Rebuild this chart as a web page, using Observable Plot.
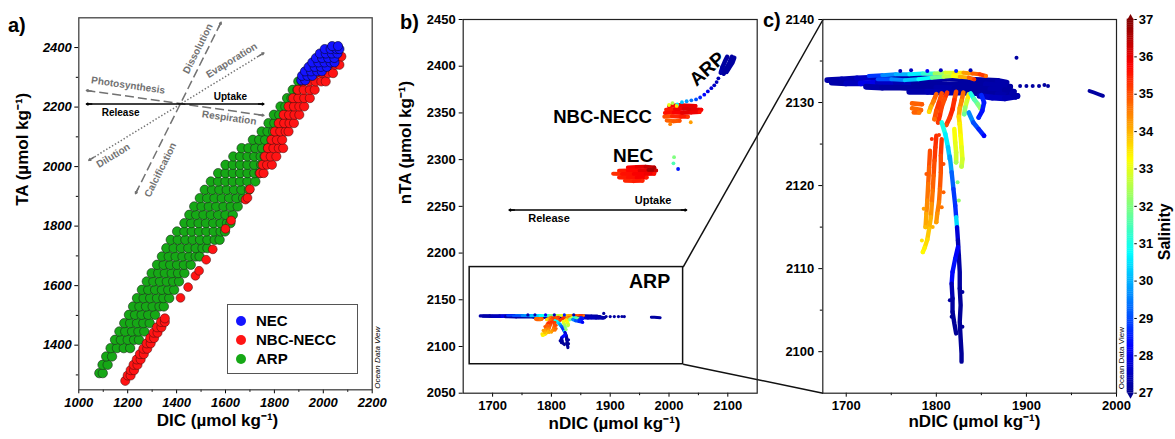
<!DOCTYPE html>
<html><head><meta charset="utf-8">
<script src="https://cdn.jsdelivr.net/npm/d3@7"></script>
<script src="https://cdn.jsdelivr.net/npm/@observablehq/plot@0.6"></script>
<style>
body{margin:0;background:#fff;}
#wrap{position:relative;width:1175px;height:439px;overflow:hidden;font-family:'Liberation Sans',Arial,Helvetica,sans-serif;background:#fff;}
#wrap svg{position:absolute;left:0;top:0;}
.plab{position:absolute;font-weight:bold;font-size:20px;line-height:20px;}
#legend{position:absolute;left:227px;top:304px;width:131px;height:70px;box-sizing:border-box;border:1.5px solid #555;background:#fff;padding-top:7px;}
#legend .li{position:relative;height:18.8px;line-height:18.8px;font-weight:bold;font-size:15px;padding-left:28px;}
#legend .sw{position:absolute;left:8px;top:4.4px;width:10px;height:10px;border-radius:50%;}
</style></head>
<body><div id="wrap"></div>
<script>
// ---------- shared salinity colour scale ----------
const salStops = [27, 28.25, 30.75, 33.25, 35.75, 37];
const salColors = ["#00008f", "#0000ff", "#00ffff", "#ffff00", "#ff0000", "#800000"];
const salTicks = [27, 28, 29, 30, 31, 32, 33, 34, 35, 36, 37];

// ---------- panel a: DIC vs TA (rows: TA, then DIC values) ----------
const arpRowsA = [
 [1306, 1084, 1098],
 [1334, 1097, 1118],
 [1362, 1112, 1136],
 [1390, 1130, 1156, 1184, 1210],
 [1418, 1148, 1172, 1200, 1226, 1246],
 [1446, 1166, 1190, 1218, 1244, 1268],
 [1474, 1186, 1210, 1238, 1264, 1290],
 [1502, 1205, 1230, 1257, 1284, 1312],
 [1530, 1222, 1248, 1275, 1302, 1330, 1348],
 [1558, 1238, 1265, 1292, 1320, 1346, 1370],
 [1586, 1258, 1284, 1312, 1340, 1366, 1390],
 [1614, 1278, 1305, 1332, 1360, 1386, 1410],
 [1642, 1298, 1325, 1352, 1380, 1406, 1432],
 [1670, 1320, 1347, 1374, 1402, 1430, 1458],
 [1698, 1340, 1368, 1396, 1424, 1452, 1478, 1494],
 [1726, 1358, 1388, 1418, 1448, 1478, 1506, 1526],
 [1754, 1376, 1405, 1436, 1466, 1496, 1526, 1556, 1576],
 [1782, 1402, 1432, 1462, 1492, 1522, 1552, 1580, 1598],
 [1810, 1432, 1460, 1490, 1520, 1550, 1580, 1606, 1620],
 [1838, 1452, 1480, 1510, 1540, 1570, 1600, 1630],
 [1866, 1472, 1502, 1532, 1562, 1592, 1622, 1650],
 [1894, 1495, 1525, 1555, 1585, 1615, 1645, 1672],
 [1922, 1515, 1545, 1575, 1605, 1635, 1665, 1696],
 [1950, 1540, 1570, 1600, 1630, 1660, 1690, 1722],
 [1978, 1570, 1600, 1630, 1660, 1690, 1718, 1740],
 [2006, 1600, 1630, 1660, 1690, 1718, 1746],
 [2034, 1632, 1660, 1690, 1718, 1744, 1760],
 [2062, 1666, 1694, 1722, 1750, 1774],
 [2090, 1712, 1738, 1762, 1790],
 [2118, 1748, 1772, 1795, 1812],
 [2146, 1776, 1800, 1820, 1834],
 [2174, 1798, 1820, 1840, 1852],
 [2202, 1825, 1845, 1865],
 [2230, 1852, 1870, 1884],
 [2258, 1875, 1894],
 [2286, 1898, 1912]
];
const nbcRowsA = [
 [1280, 1190],
 [1298, 1200, 1212],
 [1316, 1212, 1226],
 [1334, 1224, 1240],
 [1352, 1237, 1253],
 [1370, 1250, 1266],
 [1388, 1264, 1280],
 [1406, 1278, 1294],
 [1424, 1292, 1308],
 [1442, 1306, 1322],
 [1460, 1320, 1338],
 [1478, 1336, 1352],
 [1490, 1352],
 [1978, 1742, 1756],
 [2006, 1752, 1770, 1790],
 [2034, 1762, 1785, 1808],
 [2062, 1774, 1796, 1818, 1836],
 [2090, 1788, 1810, 1832],
 [2118, 1802, 1824, 1846, 1858],
 [2146, 1818, 1840, 1862, 1880],
 [2174, 1838, 1860, 1882, 1902],
 [2202, 1858, 1880, 1902, 1922],
 [2230, 1876, 1898, 1922, 1945],
 [2258, 1896, 1920, 1945, 1965],
 [2286, 1918, 1942, 1968, 1992, 2010],
 [2314, 1945, 1970, 1995, 2020, 2040],
 [2342, 1975, 2000, 2025, 2050, 2066],
 [2370, 2005, 2030, 2055, 2074],
 [2395, 2040, 2062]
];
const nbcScatterA = [[1416,1559],[1447,1595],[1477,1633],[1492,1650],[1521,1687],[1548,1722],[1600,1791],[1623,1819],[1682,1889],[1690,1895],[1700,1924]];
const necRowsA = [
 [2290, 1910, 1926],
 [2305, 1913, 1935, 1955],
 [2320, 1925, 1950, 1975, 1994],
 [2335, 1940, 1965, 1990, 2014],
 [2350, 1955, 1980, 2005, 2030, 2046],
 [2365, 1970, 1995, 2020, 2045],
 [2380, 1986, 2010, 2035, 2058],
 [2395, 2006, 2030, 2054, 2066],
 [2405, 2036, 2060]
];
// process vectors of panel a
const aLines = [
 {x1: 1031, y1: 2256, x2: 1757, y2: 2172, kind: "dashed"},
 {x1: 1232, y1: 1909, x2: 1582, y2: 2485, kind: "dashed"},
 {x1: 1041, y1: 2021, x2: 1757, y2: 2382, kind: "dotted"},
 {x1: 1031, y1: 2210, x2: 1757, y2: 2210, kind: "solid"}
];
const aProcLabels = [
 {text: "Photosynthesis", x: 1202, y: 2273, rotate: 8},
 {text: "Respiration", x: 1615, y: 2164, rotate: 8},
 {text: "Dissolution", x: 1487, y: 2396, rotate: -63.5},
 {text: "Calcification", x: 1334, y: 1989, rotate: -63.5},
 {text: "Evaporation", x: 1625, y: 2357, rotate: -31.6},
 {text: "Dilution", x: 1141, y: 2037, rotate: -31.6}
];
const aFluxLabels = [
 {text: "Uptake", x: 1620, y: 2236},
 {text: "Release", x: 1171, y: 2182}
];
const aXMajor = [1000, 1200, 1400, 1600, 1800, 2000, 2200];
const aXMinor = [1100, 1300, 1500, 1700, 1900, 2100];
const aYMajor = [1400, 1600, 1800, 2000, 2200, 2400];
const aYMinor = [1300, 1500, 1700, 1900, 2100, 2300];

// ---------- panels b & c: nDIC, nTA, salinity tracks ----------
const arpBand = [
 [[1679,2132.7,27.3],[1695,2132.8,27.4],[1712,2132.9,27.6],[1730,2133.0,27.5],[1750,2133.1,27.4],[1770,2133.0,27.3],[1790,2132.9,27.3],[1810,2132.9,27.2],[1830,2132.8,27.2],[1850,2132.7,27.2],[1868,2132.6,27.3],[1878,2132.4,27.3]],
 [[1684,2132.4,27.3],[1700,2132.3,27.5],[1716,2132.3,28.0],[1735,2132.4,27.6],[1755,2132.4,27.4],[1775,2132.3,27.2],[1795,2132.3,27.2],[1815,2132.2,27.2],[1835,2132.2,27.2],[1855,2132.2,27.3],[1872,2132.0,27.3],[1882,2131.9,27.2]],
 [[1722,2131.9,27.3],[1740,2131.8,27.2],[1760,2131.8,27.2],[1780,2131.7,27.2],[1800,2131.8,27.3],[1820,2131.7,27.2],[1840,2131.7,27.2],[1860,2131.6,27.3],[1876,2131.5,27.2],[1886,2131.3,27.3]],
 [[1770,2131.3,27.3],[1790,2131.3,27.4],[1810,2131.2,27.3],[1830,2131.2,27.2],[1850,2131.1,27.2],[1868,2131.0,27.3],[1880,2130.8,27.2],[1890,2130.8,27.3]],
 [[1848,2130.8,27.6],[1862,2130.6,27.5],[1876,2130.5,27.4],[1888,2130.7,27.3],[1884,2131.1,27.3]]
];
const arpLight = [
 [[1725,2133.2,28.8],[1740,2133.3,29.6],[1755,2133.4,30.0],[1770,2133.4,30.6],[1785,2133.5,31.2],[1798,2133.5,32.3],[1810,2133.6,32.9],[1820,2133.6,33.4],[1830,2133.6,34.2],[1840,2133.5,34.8],[1848,2133.4,35.2],[1855,2133.2,34.6]],
 [[1735,2132.8,29.0],[1750,2132.8,29.6],[1765,2132.7,30.2],[1780,2132.8,30.8],[1795,2133.0,31.8],[1808,2133.1,32.6],[1818,2133.2,33.2],[1826,2133.1,34.0],[1836,2133.0,34.8],[1842,2132.8,35.2]]
];
const arpFan = [
 [[1812,2131.2,35.2],[1809,2130.4,35.0],[1806,2129.5,35.1],[1804,2128.5,35.3],[1802,2127.6,35.2]],
 [[1800,2131.0,34.8],[1797,2130.2,34.5],[1794,2129.5,34.0],[1792,2128.9,33.6]],
 [[1822,2131.3,35.0],[1820,2130.3,35.3],[1818,2129.2,35.4],[1815,2128.2,35.2],[1811,2127.3,35.0]],
 [[1830,2131.2,34.7],[1828,2130.2,34.4],[1826,2129.3,34.1],[1825,2128.3,33.6],[1826,2127.4,33.2]],
 [[1836,2131.0,33.4],[1834,2130.2,32.8],[1832,2129.4,32.2],[1831,2128.6,31.8]],
 [[1806,2131.1,35.0],[1803,2130.0,35.2],[1800,2129.0,35.0],[1798,2128.0,34.7]],
 [[1773,2129.9,34.8],[1784,2129.8,34.9]],
 [[1773,2129.3,34.7],[1783,2129.1,34.8]],
 [[1775,2128.8,34.8],[1781,2128.8,34.6]],
 [[1838,2131.1,31.0],[1842,2130.4,31.6],[1846,2129.8,32.0],[1849,2129.3,32.3]],
 [[1850,2130.9,28.6],[1853,2130.0,28.5],[1851,2129.0,28.4],[1847,2128.2,28.6]],
 [[1836,2128.8,29.6],[1841,2127.6,29.0],[1847,2126.8,28.6],[1853,2126.0,28.2]],
 [[1806,2127.6,31.0],[1810,2126.2,30.6],[1813,2124.6,30.2],[1815,2123.2,29.8]],
 [[1826,2127.4,33.4],[1827,2126.0,33.2],[1828,2124.6,33.0],[1829,2123.2,32.8],[1828,2122.3,32.6]],
 [[1820,2126.8,33.2],[1821,2125.2,33.0],[1822,2124.0,32.8],[1822,2122.8,32.4]]
];
const arpStreaks = [
 [[1815,2123.5,29.8],[1817,2121.6,29.2],[1819,2119.6,28.8],[1821,2117.6,28.7],[1822,2116.2,30.4],[1823,2115.0,27.8],[1824,2113.4,27.4],[1825,2111.6,27.2],[1826,2109.6,27.2],[1826,2107.6,27.1],[1827,2105.6,27.1],[1826,2103.6,27.1],[1827,2101.6,27.1],[1828,2099.8,27.1],[1828,2098.8,27.1]],
 [[1824,2112.6,28.2],[1821,2111.2,28.4],[1818,2109.6,28.3],[1817,2108.2,27.4],[1818,2106.4,27.2],[1818,2104.8,27.1],[1820,2103.4,27.1],[1822,2102.2,27.1]],
 [[1800,2126.0,35.3],[1799,2124.6,35.2],[1798,2123.0,35.0],[1797,2121.2,34.8],[1796,2119.4,34.6],[1795,2117.8,34.3],[1794,2116.2,34.0],[1792,2114.8,33.8],[1790,2113.5,33.6],[1787,2112.5,33.4],[1785,2112.0,33.3]],
 [[1806,2125.6,35.2],[1805,2123.6,35.0],[1805,2121.6,34.9],[1804,2119.6,34.7],[1803,2118.0,34.5],[1801,2116.6,34.3],[1800,2115.6,34.2]],
 [[1793,2124.2,35.0],[1792,2122.2,34.8],[1791,2120.2,34.6],[1790,2118.2,34.4],[1789,2116.6,34.1],[1788,2115.0,33.9]]
];
const arpFar = [
 [[1970,2131.4,27.2],[1975,2131.2,27.2],[1980,2131.0,27.2],[1985,2130.8,27.2]]
];
const arpDots = [[1889,2135.4,27.2],[1893,2132.0,27.2],[1900,2132.0,27.2],[1907,2132.0,27.2],[1914,2132.0,27.2],[1920,2132.1,27.2],[1924,2132.0,27.2],[1823.6,2120.4,32.0],[1825,2118.2,32.2],[1760,2133.8,27.4],[1772,2133.9,27.5],[1790,2133.8,28.2],[1805,2133.9,27.5],[1822,2133.8,28.5],[1838,2133.9,27.4],
 [1795,2125.6,35.3],[1803,2126.1,35.2],[1808,2122.6,35.0],[1786,2117.2,34.2],[1808,2119.2,34.8],[1784,2113.4,33.5],[1806,2117.4,34.6],[1796,2115.0,34.0],[1789,2121.4,34.9],[1817,2104.2,27.1],[1829,2107.2,27.2],[1815,2106.2,27.2],[1829,2103.0,27.1]];
// upper groups (panel b only)
const necTracks = [
 [[1930,2291.5,35.8],[1945,2292.0,36.0],[1960,2292.5,36.3],[1975,2291.5,36.5]],
 [[1915,2288.0,35.5],[1930,2288.5,35.7],[1950,2288.5,36.0],[1965,2289.0,36.6],[1978,2288.5,36.2]],
 [[1905,2285.0,35.3],[1920,2284.5,35.6],[1940,2284.5,35.8],[1960,2284.5,35.9],[1975,2285.0,35.6]],
 [[1915,2281.0,35.5],[1930,2280.5,35.6],[1945,2280.5,35.8],[1962,2281.0,35.5]],
 [[1925,2277.5,35.4],[1940,2277.0,35.5],[1955,2277.5,35.4]]
];
const nbcTracks = [
 [[2000,2357.0,35.8],[2015,2358.5,36.0],[2030,2358.0,36.0],[2045,2357.5,35.9]],
 [[1995,2353.5,35.5],[2010,2354.0,35.9],[2025,2354.5,36.1],[2040,2354.0,36.0],[2055,2353.5,35.8]],
 [[1993,2350.0,35.6],[2008,2350.5,35.8],[2022,2350.0,36.0],[2038,2350.5,35.9],[2052,2351.0,35.6]],
 [[1992,2346.0,35.0],[2005,2346.5,35.4],[2020,2346.0,35.5],[2032,2346.0,35.2]],
 [[1996,2342.0,34.8],[2008,2341.0,34.9],[2018,2341.5,35.0]]
];
const arpUpperTracks = [
 [[2088,2393,27.3],[2091,2399,27.2],[2095,2405,27.2],[2099,2410,27.2]],
 [[2093,2392,27.2],[2098,2398,27.2],[2103,2404,27.2],[2107,2410,27.2]],
 [[2098,2394,27.2],[2103,2399,27.2],[2108,2404,27.2],[2111,2409,27.2]]
];
const upperDots = [[2014,2359,30.6],[2022,2361.5,30.2],[2030,2362.5,29.8],[2038,2363.5,29.4],[2046,2364.5,29.0],[2053,2366.5,28.6],[2060,2369.5,28.3],[2066,2373,28.0],[2072,2376.5,27.8],[2077,2379.5,27.6],[2081,2383,27.5],[2084,2387,27.4],
 [2000,2358.5,33.0],[2006,2360.5,32.5],[2013,2357.5,33.5],[2037,2340,34.2],[2002,2338,34.5],
 [2008.6,2302.6,32.0],[2007.6,2296.0,31.5],[2015.5,2290.0,28.5]];
const bLabels = [
 {text: "ARP", x: 2065, y: 2397, rotate: -42, size: 19},
 {text: "NBC-NECC", x: 1887, y: 2346, rotate: 0, size: 18.5},
 {text: "NEC", x: 1939, y: 2304, rotate: 0, size: 19},
 {text: "ARP", x: 1967, y: 2169, rotate: 0, size: 19.5}
];
const bFluxLabels = [
 {text: "Uptake", x: 1973, y: 2256},
 {text: "Release", x: 1796, y: 2237}
];
const bArrow = [{x1: 1728, y1: 2246, x2: 2030, y2: 2246}];
const zoomBox = [{x1: 1661, x2: 2024, y1: 2081, y2: 2185}];
const connectors = [{x1: 2024, y1: 2185, x2: 2262, y2: 2450}, {x1: 2024, y1: 2081, x2: 2262, y2: 2050}];
const bXMajor = [1700, 1800, 1900, 2000, 2100];
const bXMinor = [1750, 1850, 1950, 2050];
const bYMajor = [2050, 2100, 2150, 2200, 2250, 2300, 2350, 2400, 2450];
const cXMajor = [1700, 1800, 1900, 2000];
const cXMinor = [1750, 1850, 1950];
const cYMajor = [2100, 2110, 2120, 2130, 2140];
const cYMinor = [2105, 2115, 2125, 2135];

// ---------- helpers ----------
const W = 1175, H = 439;
const baseStyle = {fontFamily: "'Liberation Sans', Arial, Helvetica, sans-serif", fontSize: "13px", fontWeight: "bold", background: "transparent", overflow: "visible", color: "#000"};
const salColor = {type: "linear", domain: salStops, range: salColors, interpolate: "rgb", clamp: true};
function rowsToPts(rows) { const out = []; for (const [ta, ...dics] of rows) for (const dic of dics) out.push({dic, ta}); return out; }
function tracksToRows(tracks, key) { const out = []; tracks.forEach((t, i) => t.forEach(([x, y, s]) => out.push({x, y, s, z: key + i}))); return out; }
function ptsToRows(pts) { return pts.map(([x, y, s]) => ({x, y, s})); }
function heads(lines, f) {
  return lines.flatMap(l => [
    {x1: l.x2 - f * (l.x2 - l.x1), y1: l.y2 - f * (l.y2 - l.y1), x2: l.x2, y2: l.y2},
    {x1: l.x1 + f * (l.x2 - l.x1), y1: l.y1 + f * (l.y2 - l.y1), x2: l.x1, y2: l.y1}
  ]);
}
const title = (t, o) => Plot.text([t], {text: d => d, ...o});
const XY = {x1: "x1", y1: "y1", x2: "x2", y2: "y2"};
const trk = (tracks, key, w) => Plot.line(tracksToRows(tracks, key), {x: "x", y: "y", z: "z", stroke: "s", strokeWidth: w, strokeLinecap: "round", strokeLinejoin: "round"});
const wrap = document.getElementById("wrap");

// ---------- panel a ----------
const grey = "#727272";
const plotA = Plot.plot({
  width: W, height: H, marginLeft: 78.3, marginRight: 803.3, marginTop: 17.3, marginBottom: 49.7,
  style: baseStyle,
  x: {domain: [1000, 2200], label: null},
  y: {domain: [1250, 2500], label: null},
  marks: [
    Plot.axisX({ticks: aXMajor, tickSize: 4, tickPadding: 4, tickFormat: "d", fontStyle: "italic", fontSize: 13, label: null}),
    Plot.axisX({ticks: aXMinor, tickSize: 2.5, tickFormat: () => "", label: null}),
    Plot.axisY({ticks: aYMajor, tickSize: 4, tickPadding: 3, tickFormat: "d", fontStyle: "italic", fontSize: 13, label: null}),
    Plot.axisY({ticks: aYMinor, tickSize: 2.5, tickFormat: () => "", label: null}),
    Plot.link(aLines.filter(d => d.kind === "dashed"), {...XY, stroke: grey, strokeWidth: 1.5, strokeDasharray: "9,4"}),
    Plot.link(aLines.filter(d => d.kind === "dotted"), {...XY, stroke: grey, strokeWidth: 1.5, strokeDasharray: "1.4,2"}),
    Plot.link(aLines.filter(d => d.kind === "solid"), {...XY, stroke: "#000", strokeWidth: 1.5}),
    Plot.arrow(heads(aLines.filter(d => d.kind !== "solid"), 0.03), {...XY, stroke: grey, strokeWidth: 1.5, headLength: 6, headAngle: 55}),
    Plot.arrow(heads(aLines.filter(d => d.kind === "solid"), 0.03), {...XY, stroke: "#000", strokeWidth: 1.5, headLength: 6, headAngle: 55}),
    Plot.text(aProcLabels, {x: "x", y: "y", text: "text", rotate: "rotate", fill: grey, fontSize: 10}),
    Plot.text(aFluxLabels, {x: "x", y: "y", text: "text", fill: "#000", fontSize: 10}),
    Plot.dot(rowsToPts(arpRowsA), {x: "dic", y: "ta", r: 4.7, fill: "#16a816", stroke: "#1d2a1d", strokeWidth: 0.6}),
    Plot.dot(rowsToPts(nbcRowsA), {x: "dic", y: "ta", r: 4.6, fill: "#ff1414", stroke: "#3a0a0a", strokeWidth: 0.5}),
    Plot.dot(nbcScatterA, {x: d => d[0], y: d => d[1], r: 4.4, fill: "#ff1414", stroke: "#3a0a0a", strokeWidth: 0.5}),
    Plot.dot(rowsToPts(necRowsA), {x: "dic", y: "ta", r: 4.6, fill: "#1414ff", stroke: "#05052a", strokeWidth: 0.6}),
    Plot.frame({stroke: "#444", strokeWidth: 1.3}),
    title("TA (µmol kg⁻¹)", {frameAnchor: "left", dx: -56.6, dy: 2, rotate: -90, fontSize: 17}),
    title("DIC (µmol kg⁻¹)", {frameAnchor: "bottom", dx: -8, dy: 35.7, fontSize: 17}),
    title("Ocean Data View", {frameAnchor: "bottom-right", rotate: -90, textAnchor: "start", dx: 7.6, dy: -1, fontSize: 8, fontStyle: "italic", fontWeight: "normal"})
  ]
});
wrap.appendChild(plotA);

// ---------- panel b ----------
const plotB = Plot.plot({
  width: W, height: H, marginLeft: 462.7, marginRight: 418.3, marginTop: 19, marginBottom: 46.3,
  style: baseStyle,
  x: {domain: [1650, 2150], label: null},
  y: {domain: [2050, 2450], label: null},
  color: salColor,
  marks: [
    Plot.axisX({ticks: bXMajor, tickSize: 4, tickPadding: 3.5, tickFormat: "d", fontSize: 13, label: null}),
    Plot.axisX({ticks: bXMinor, tickSize: 2.5, tickFormat: () => "", label: null}),
    Plot.axisY({ticks: bYMajor, tickSize: 4, tickPadding: 3.5, tickFormat: "d", fontSize: 13, label: null}),
    Plot.rect(zoomBox, {...XY, fill: "none", stroke: "#111", strokeWidth: 1.5}),
    Plot.link(connectors, {...XY, stroke: "#111", strokeWidth: 1.5}),
    Plot.link(bArrow, {...XY, stroke: "#000", strokeWidth: 1.5}),
    Plot.arrow(heads(bArrow, 0.03), {...XY, stroke: "#000", strokeWidth: 1.5, headLength: 6, headAngle: 55}),
    Plot.text(bFluxLabels, {x: "x", y: "y", text: "text", fill: "#000", fontSize: 11}),
    Plot.text(bLabels, {x: "x", y: "y", text: "text", rotate: "rotate", fontSize: "size", fill: "#000"}),
    trk(arpBand, "band", 3.2),
    trk(arpLight, "light", 2.4),
    trk(arpFan, "fan", 3.2),
    trk(arpStreaks, "str", 3.2),
    trk(arpFar, "far", 3),
    Plot.dot(ptsToRows(arpDots), {x: "x", y: "y", fill: "s", r: 1.6}),
    trk(necTracks, "nec", 4),
    trk(nbcTracks, "nbc", 4),
    trk(arpUpperTracks, "up", 4.5),
    Plot.dot(ptsToRows(upperDots), {x: "x", y: "y", fill: "s", r: 1.9}),
    Plot.frame({stroke: "#222", strokeWidth: 1.2}),
    title("nTA (µmol kg⁻¹)", {frameAnchor: "left", dx: -57.7, dy: -2, rotate: -90, fontSize: 17}),
    title("nDIC (µmol kg⁻¹)", {frameAnchor: "bottom", dx: 4.3, dy: 35.3, fontSize: 17})
  ]
});
wrap.appendChild(plotB);

// ---------- panel c ----------
const plotC = Plot.plot({
  width: W, height: H, marginLeft: 822.3, marginRight: 59, marginTop: 19, marginBottom: 46.3,
  style: baseStyle,
  x: {domain: [1674, 2000], label: null},
  y: {domain: [2095, 2140], label: null},
  color: salColor,
  marks: [
    Plot.axisX({ticks: cXMajor, tickSize: 4, tickPadding: 3.5, tickFormat: "d", fontSize: 13, label: null}),
    Plot.axisX({ticks: cXMinor, tickSize: 2.5, tickFormat: () => "", label: null}),
    Plot.axisY({ticks: cYMajor, tickSize: 4, tickPadding: 4.5, tickFormat: "d", fontSize: 13, label: null}),
    Plot.axisY({ticks: cYMinor, tickSize: 2.5, tickFormat: () => "", label: null}),
    trk(arpBand, "band", 5.8),
    trk(arpLight, "light", 4),
    trk(arpFan, "fan", 4.6),
    trk(arpStreaks, "str", 4.4),
    trk(arpFar, "far", 3.8),
    Plot.dot(ptsToRows(arpDots), {x: "x", y: "y", fill: "s", r: 2}),
    Plot.frame({stroke: "#222", strokeWidth: 1.2}),
    title("nDIC (µmol kg⁻¹)", {frameAnchor: "bottom", dx: 4.8, dy: 34, fontSize: 17}),
    title("Ocean Data View", {frameAnchor: "bottom-right", rotate: -90, textAnchor: "start", dx: 7, dy: -4, fontSize: 8, fontWeight: "normal"})
  ]
});
wrap.appendChild(plotC);

// ---------- colour bar ----------
const ramp = d3.range(27, 37, 0.05);
const upTri = {draw(ctx) { ctx.moveTo(-3.4, 0.5); ctx.lineTo(3.4, 0.5); ctx.lineTo(0, -5.5); ctx.closePath(); }};
const downTri = {draw(ctx) { ctx.moveTo(-3.4, -0.5); ctx.lineTo(3.4, -0.5); ctx.lineTo(0, 5.5); ctx.closePath(); }};
const plotBar = Plot.plot({
  width: W, height: H, marginLeft: 1126.7, marginRight: 41.7, marginTop: 19, marginBottom: 46.3,
  style: baseStyle,
  x: {domain: [0, 1], label: null, axis: null},
  y: {domain: [27, 37], label: null},
  color: salColor,
  marks: [
    Plot.rect(ramp, {x1: 0, x2: 1, y1: d => d, y2: d => d + 0.06, fill: d => d + 0.025}),
    Plot.dot([37], {x: 0.5, y: d => d, symbol: upTri, fill: salColors[5]}),
    Plot.dot([27], {x: 0.5, y: d => d, symbol: downTri, fill: salColors[0]}),
    Plot.axisY({anchor: "right", ticks: salTicks, tickSize: 2.5, tickPadding: 2.5, tickFormat: "d", fontSize: 13, label: null}),
    title("Salinity", {frameAnchor: "right", dx: 31, dy: -3, rotate: -90, fontSize: 16})
  ]
});
wrap.appendChild(plotBar);

// ---------- panel letters & legend (HTML) ----------
const panelLetters = [{t: "a)", left: 8, top: 15}, {t: "b)", left: 400, top: 12}, {t: "c)", left: 763, top: 10}];
for (const p of panelLetters) {
  const d = document.createElement("div");
  d.className = "plab"; d.textContent = p.t; d.style.left = p.left + "px"; d.style.top = p.top + "px";
  wrap.appendChild(d);
}
const legendItems = [{name: "NEC", color: "#1414ff"}, {name: "NBC-NECC", color: "#ff1414"}, {name: "ARP", color: "#16a816"}];
const lg = document.createElement("div"); lg.id = "legend";
for (const it of legendItems) {
  const li = document.createElement("div"); li.className = "li";
  const sw = document.createElement("span"); sw.className = "sw"; sw.style.background = it.color;
  li.appendChild(sw); li.appendChild(document.createTextNode(it.name));
  lg.appendChild(li);
}
wrap.appendChild(lg);
</script>
</body></html>
